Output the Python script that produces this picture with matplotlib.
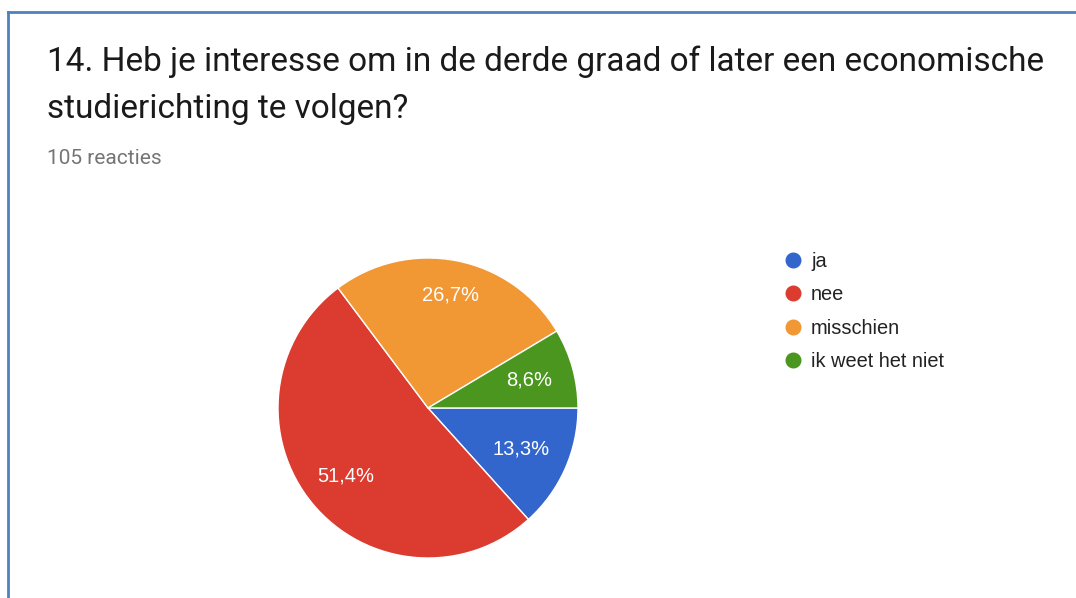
import matplotlib
matplotlib.use("Agg")
import matplotlib.pyplot as plt
from matplotlib.lines import Line2D
import numpy as np

# survey answers (105 reacties)
labels = ["ja", "nee", "misschien", "ik weet het niet"]
counts = [14, 54, 28, 9]
colors = ["#3366CC", "#DC3B2F", "#F19733", "#4B961F"]

title = "14. Heb je interesse om in de derde graad of later een economische\nstudierichting te volgen?"
subtitle = "105 reacties"

W, H = 1076, 598
plt.rcParams['font.family'] = ['Roboto', 'DejaVu Sans']
chart_font = ['Liberation Sans', 'DejaVu Sans']

fig = plt.figure(figsize=(W / 100, H / 100), dpi=100)
fig.set_facecolor('w')

# frame of the card (only left and top visible)
border = "#4F81BD"
fig.add_artist(Line2D([8 / W, 8 / W], [0, 1 - 12 / H], color=border, lw=2, transform=fig.transFigure))
fig.add_artist(Line2D([8 / W, 1], [1 - 12 / H, 1 - 12 / H], color=border, lw=2, transform=fig.transFigure))

fig.text(47 / W, 1 - 118 / H, title, fontsize=24, color="#1a1a1a", ha='left', va='baseline',
         linespacing=1.6)
fig.text(47 / W, 1 - 164 / H, subtitle, fontsize=15, color="#757575", ha='left', va='baseline')

# pie: center (428, 408), radius 150 px
ax = fig.add_axes([278 / W, 1 - 558 / H, 300 / W, 300 / H])
wedges, texts, autotexts = ax.pie(
    counts, colors=colors, startangle=0, counterclock=False,
    autopct=lambda p: f"{p:.1f}%".replace('.', ','), pctdistance=0.7,
    wedgeprops=dict(edgecolor='white', linewidth=1),
    textprops=dict(color='white', fontsize=14.5, family=chart_font))
ax.set_xlim(-1, 1)
ax.set_ylim(-1, 1)
ax.set_aspect('equal')

# label distance from centre per slice (as placed in the original)
label_r = [0.68, 0.71, 0.77, 0.70]
for w, t, r in zip(wedges, autotexts, label_r):
    w.set_clip_on(False)
    mid = np.deg2rad((w.theta1 + w.theta2) / 2)
    t.set_position((r * np.cos(mid), r * np.sin(mid)))

handles = [Line2D([], [], marker='o', ls='none', markersize=10.5, markerfacecolor=c,
                  markeredgecolor=c) for c in colors]
leg = fig.legend(handles, labels, loc='upper left', bbox_to_anchor=(784 / W, 1 - 252 / H),
                 frameon=False, handlelength=0.9, handletextpad=0.45,
                 borderpad=0, borderaxespad=0, labelspacing=0.72, labelcolor="#222222",
                 prop=dict(family=chart_font, size=14.4))

fig.savefig("out.png", dpi=100, facecolor='w')
